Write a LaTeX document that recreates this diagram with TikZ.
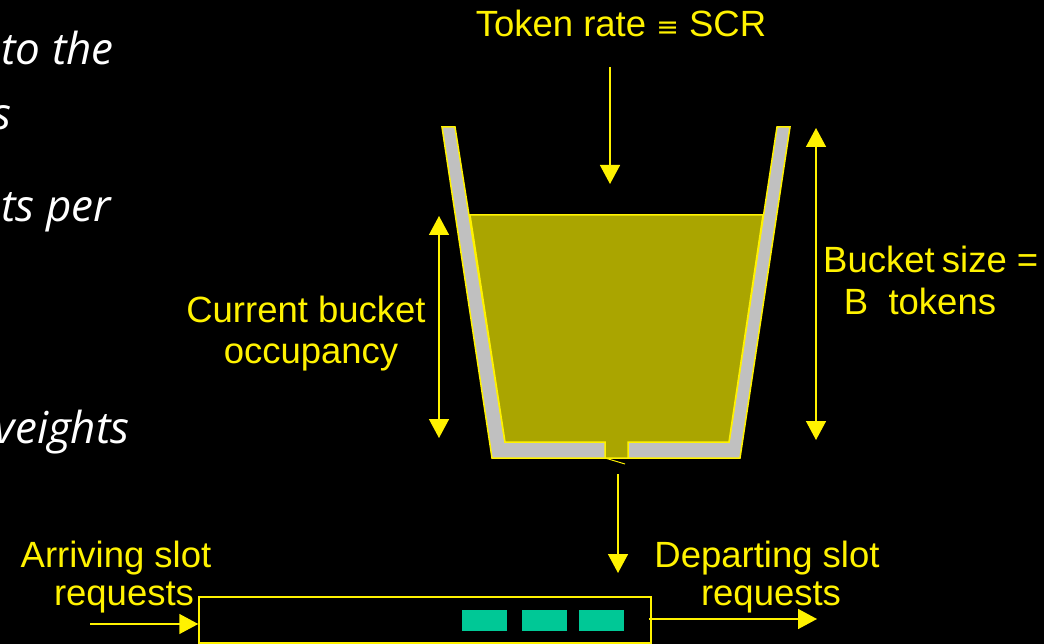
\documentclass[tikz,border=0pt]{standalone}
\usepackage{fontspec}
\setmainfont{Liberation Sans}
\newfontfamily\slidefont{Open Sans}
\newfontfamily\symbolfont{DejaVu Sans}
\usetikzlibrary{arrows.meta}
\definecolor{liquid}{RGB}{170,165,0}
\definecolor{wall}{RGB}{192,192,192}
\definecolor{cell}{RGB}{0,200,150}

\begin{document}
\begin{tikzpicture}[x=1pt,y=-1pt,
  lbl/.style={text=yellow,font=\fontsize{36.5}{40}\selectfont,inner sep=0pt,anchor=base},
  note/.style={text=white,font=\slidefont\itshape\fontsize{44}{48}\selectfont,inner sep=0pt,anchor=base east},
  flow/.style={draw=yellow,line width=1.5pt,-{Triangle[length=19pt,width=20pt]}},
  span/.style={draw=yellow,line width=1.5pt,{Triangle[length=19pt,width=20pt]}-{Triangle[length=19pt,width=20pt]}},
  cellbox/.style={fill=cell,minimum width=45pt,minimum height=21pt,inner sep=0pt}]

% background and page frame
\fill[black] (0,0) rectangle (1044,644);
\useasboundingbox (0,0) rectangle (1044,644);
\clip (0,0) rectangle (1044,644);

% slide text running in from the left
\node[note] (n1) at (114,65) {to the};
\node[note] (n2) at (12,130) {s};
\node[note] (n3) at (111,222) {ts per};
\node[note] (n4) at (130,443) {veights};

% bucket wall
\draw[fill=wall,draw=yellow,line width=1.5pt,line join=miter]
  (442,127) -- (492,458) -- (740,458) -- (790,127) -- (777,127)
  -- (729,442) -- (505,442) -- (455,127) -- cycle;
% tokens in the bucket
\draw[fill=liquid,draw=yellow,line width=1.5pt]
  (470,215) -- (505,442) -- (605,442) -- (605,458) -- (628,458)
  -- (628,442) -- (729,442) -- (763,215) -- cycle;
\draw[yellow,line width=1pt] (605,458) -- (625,464);

% labels
\node[lbl] (rate) at (621,37) {Token rate {\symbolfont\fontsize{27}{27}\selectfont ≡} SCR};
\node[lbl] (occ1) at (306,323) {Current bucket};
\node[lbl] (occ2) at (311,363) {occupancy};
\node[lbl,anchor=base west] (size1) at (823,273) {Bucket\hspace{-3pt} size =};
\node[lbl] (size2) at (920,315) {B\ \ tokens};
\node[lbl] (arr1) at (116,567) {Arriving slot};
\node[lbl] (arr2) at (124,605) {requests};
\node[lbl] (dep1) at (767,567) {Departing slot};
\node[lbl] (dep2) at (771,605) {requests};

% queue of slot requests
\node[draw=yellow,line width=1.5pt,minimum width=452pt,minimum height=46pt,inner sep=0pt] (queue) at (425,620) {};
\node[cellbox] (c1) at (484.5,620.5) {};
\node[cellbox] (c2) at (544.5,620.5) {};
\node[cellbox] (c3) at (601.5,620.5) {};

% arrows
\coordinate (rateStart) at (610,67);
\coordinate (rateEnd) at (610,184);
\draw[flow] (rateStart) -- (rateEnd);

\coordinate (occTop) at (439,216);
\coordinate (occBot) at (439,438);
\draw[span] (occTop) -- (occBot);

\coordinate (sizeTop) at (816,128);
\coordinate (sizeBot) at (816,440);
\draw[span] (sizeTop) -- (sizeBot);

\coordinate (drainStart) at (618,474);
\coordinate (drainEnd) at (618,573);
\draw[flow] (drainStart) -- (drainEnd);

\coordinate (inStart) at (90,624);
\draw[flow] (inStart) -- (inStart -| queue.west);

\coordinate (outEnd) at (817,619);
\draw[flow] ([xshift=-3pt]outEnd -| queue.east) -- (outEnd);
\end{tikzpicture}
\end{document}
